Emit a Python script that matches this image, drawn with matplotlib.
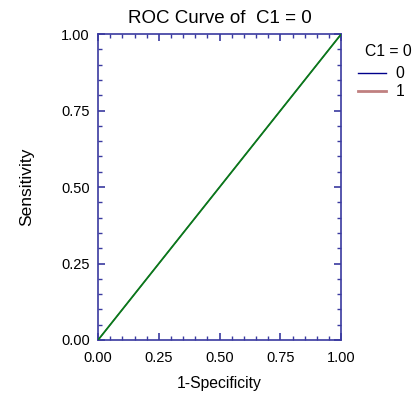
import matplotlib.pyplot as plt
from matplotlib.ticker import MultipleLocator

plt.rcParams['font.family'] = ['Liberation Sans', 'DejaVu Sans']

# ROC points (1-specificity, sensitivity) for each group
fpr_0 = [0.0, 1.0]
tpr_0 = [0.0, 1.0]
fpr_1 = [0.0, 1.0]
tpr_1 = [0.0, 1.0]
diag = [0.0, 1.0]
labels = ["0", "1"]
ticks = [0.0, 0.25, 0.5, 0.75, 1.0]

frame = '#3a3aa0'

fig = plt.figure(figsize=(4.14, 3.93), dpi=100)
ax = fig.add_axes([0.237, 0.135, 0.587, 0.778])

l0, = ax.plot(fpr_0, tpr_0, color='#00008b', lw=0.7)
l1, = ax.plot(fpr_1, tpr_1, color='#c08080', lw=0.7)
ax.plot(diag, diag, color='#0a7a1a', lw=1.3, zorder=3)

ax.set_xlim(0, 1)
ax.set_ylim(0, 1)
ax.set_xticks(ticks)
ax.set_yticks(ticks)
ax.set_xticklabels([f"{t:.2f}" for t in ticks])
ax.set_yticklabels([f"{t:.2f}" for t in ticks])
ax.xaxis.set_minor_locator(MultipleLocator(0.05))
ax.yaxis.set_minor_locator(MultipleLocator(0.05))
ax.tick_params(which='both', direction='in', top=True, right=True, color=frame,
               labelsize=10.5)
ax.tick_params(axis='x', pad=8)
ax.tick_params(axis='y', pad=6)
ax.tick_params(which='major', length=5, width=1.2)
ax.tick_params(which='minor', length=3, width=1)
for s in ax.spines.values():
    s.set_color(frame)
    s.set_linewidth(1.2)

ax.set_title("ROC Curve of  C1 = 0", fontsize=13.5, pad=8)
ax.set_xlabel("1-Specificity", fontsize=11.3, labelpad=8)
ax.set_ylabel("Sensitivity", fontsize=12.5, labelpad=19)

# legend: title as separate text so the gap can match
fig.text(0.937, 0.870, "C1 = 0", fontsize=11.3, ha='center', va='center')
handles = [plt.Line2D([], [], color='#00008b', lw=1),
           plt.Line2D([], [], color='#c08080', lw=2)]
leg = fig.legend(handles, labels, loc='upper left',
                 bbox_to_anchor=(0.864, 0.832), frameon=False, fontsize=11.3,
                 handlelength=1.8, handletextpad=0.6,
                 labelspacing=0.2, borderpad=0, borderaxespad=0)

plt.savefig("out.png", dpi=100)
